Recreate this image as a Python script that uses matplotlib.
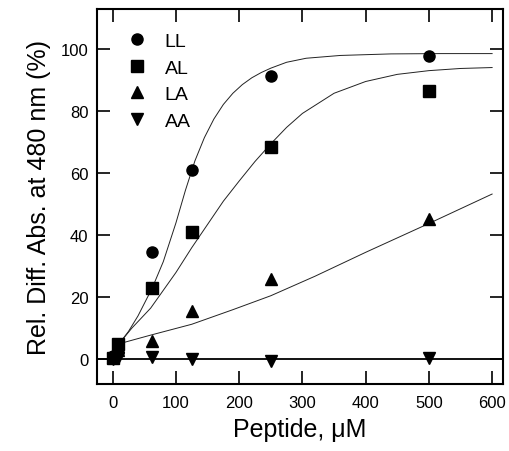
import matplotlib.pyplot as plt

plt.rcParams['font.family'] = ['Liberation Sans', 'DejaVu Sans']

# peptide concentrations (uM)
conc = [0, 8, 62.5, 125, 250, 500]

# measured relative difference absorbance (%)
ll_vals = [1.0, 2.5, 34.7, 61.0, 91.4, 97.8]
al_vals = [0.5, 5.0, 22.9, 41.0, 68.5, 86.6]
la_vals = [0.8, 3.0, 6.0, 15.7, 25.9, 45.3]
aa_vals = [0.2, 0.5, 0.8, 0.2, -0.6, 0.3]

# fitted curves
ll_fit_x = [10, 25, 40, 62.5, 80, 100, 115, 130, 145, 160, 175, 190, 205, 220, 235, 250, 275, 306, 360, 440, 520, 600]
ll_fit_y = [5, 9, 14, 23, 31.5, 44, 54.5, 64, 71.5, 77.5, 82.2, 85.8, 88.6, 90.8, 92.5, 93.9, 95.8, 97.1, 98, 98.5, 98.6, 98.6]

al_fit_x = [10, 30, 60, 100, 125, 150, 175, 200, 225, 250, 275, 300, 350, 400, 450, 500, 550, 600]
al_fit_y = [5, 10, 16.5, 28, 36, 43.5, 51, 57.5, 63.8, 69.5, 74.8, 79.3, 85.8, 89.6, 91.9, 93.1, 93.8, 94.1]

la_fit_x = [10, 60, 125, 190, 250, 320, 400, 500, 600]
la_fit_y = [5, 7.8, 11.3, 16, 20.5, 26.8, 34.5, 43.8, 53.3]

series = [
    ('LL', ll_vals, 'o'),
    ('AL', al_vals, 's'),
    ('LA', la_vals, '^'),
    ('AA', aa_vals, 'v'),
]

fig = plt.figure(figsize=(5.1, 4.52), dpi=100)
ax = fig.add_axes([0.190, 0.148, 0.796, 0.830])

ax.axhline(0, color='black', lw=1.3, zorder=1)

for xs, ys in [(ll_fit_x, ll_fit_y), (al_fit_x, al_fit_y), (la_fit_x, la_fit_y)]:
    ax.plot(xs, ys, color='#222222', lw=0.7, zorder=2)

for name, vals, mk in series:
    ax.plot(conc, vals, linestyle='none', marker=mk, markersize=8,
            color='black', label=name, zorder=3)

ax.set_xlim(-25, 617)
ax.set_ylim(-8, 113)
ax.set_xticks([0, 100, 200, 300, 400, 500, 600])
ax.set_yticks([0, 20, 40, 60, 80, 100])

ax.tick_params(direction='in', length=9.5, width=1.2, top=True, right=True,
               labelsize=12)
ax.tick_params(axis='x', pad=8)
ax.tick_params(axis='y', pad=6)
for sp in ax.spines.values():
    sp.set_linewidth(1.5)

ax.set_xlabel('Peptide, μM', fontsize=18, labelpad=5)
ax.set_ylabel('Rel. Diff. Abs. at 480 nm (%)', fontsize=18, labelpad=7)

ax.legend(loc='upper left', bbox_to_anchor=(0.076, 0.937), frameon=False,
          fontsize=14, handlelength=1.0, handletextpad=0.9,
          labelspacing=0.46, borderaxespad=0, borderpad=0)

fig.savefig('out.png', dpi=100)
